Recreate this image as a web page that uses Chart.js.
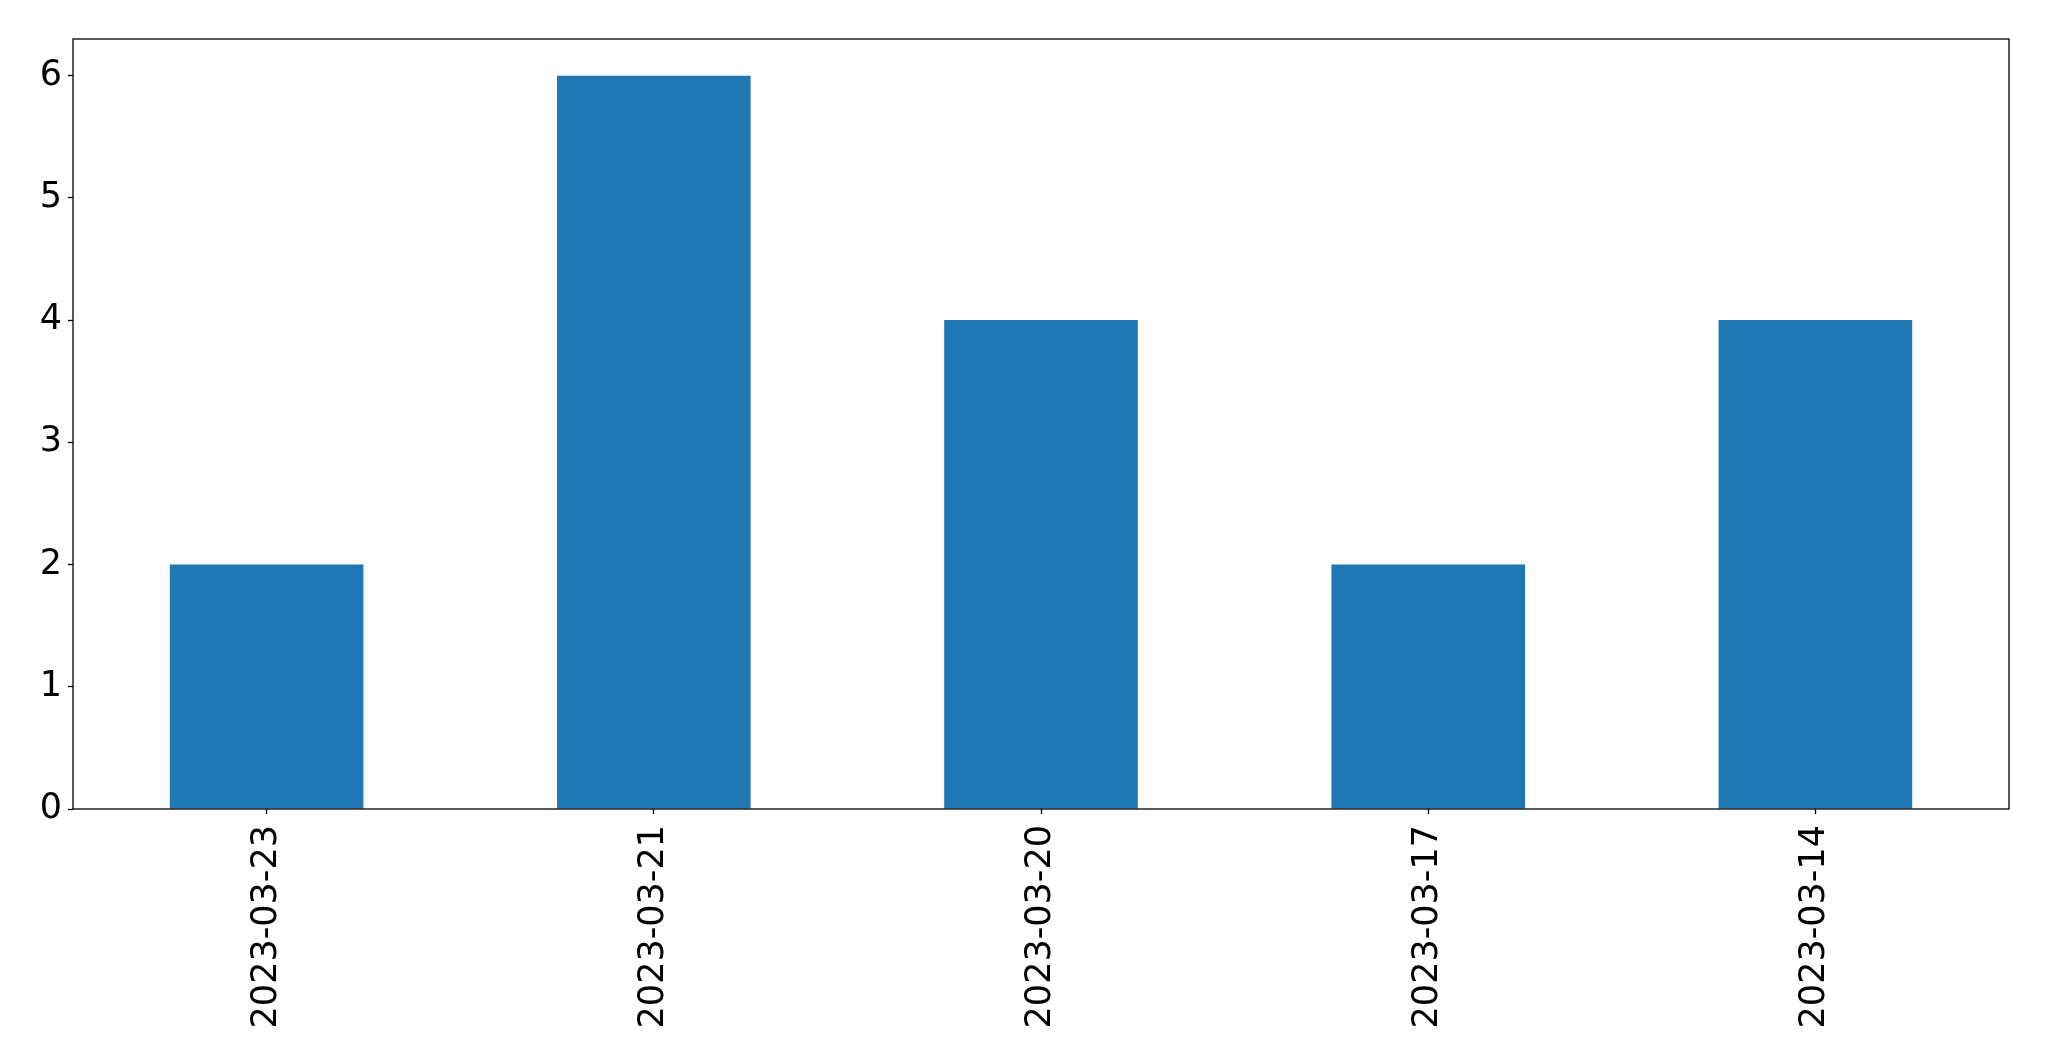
<!DOCTYPE html>
<html>
<head>
<meta charset="utf-8">
<script src="https://cdn.jsdelivr.net/npm/chart.js@4.4.0/dist/chart.umd.min.js"></script>
<style>
  html, body { margin: 0; padding: 0; background: #fff; }
  #wrap { width: 2049px; height: 1061px; }
</style>
</head>
<body>
<div id="wrap"><canvas id="dataChart" width="2049" height="1061"></canvas></div>
<script>
// categories and values
var dates = ['2023-03-23', '2023-03-21', '2023-03-20', '2023-03-17', '2023-03-14'];
var counts = [2, 6, 4, 2, 4];
var yTicks = [0, 1, 2, 3, 4, 5, 6];

// draws the full frame round the plot area (top and right spines too)
var frame = {
  id: 'frame',
  afterDatasetsDraw: function(chart) {
    var a = chart.chartArea, c = chart.ctx;
    c.save();
    c.strokeStyle = '#000';
    c.lineWidth = 1.3;
    c.strokeRect(a.left, a.top, a.right - a.left, a.bottom - a.top);
    c.restore();
  }
};

document.addEventListener("DOMContentLoaded", function() {
  var ctx = document.getElementById('dataChart').getContext('2d');
  Chart.defaults.font.family = 'DejaVu Sans';
  Chart.defaults.color = '#000';

  new Chart(ctx, {
    type: 'bar',
    data: {
      labels: dates,
      datasets: [{
        data: counts,
        backgroundColor: '#1f77b4',
        borderWidth: 0,
        categoryPercentage: 1.0,
        barPercentage: 0.5
      }]
    },
    options: {
      responsive: false,
      animation: false,
      layout: { padding: { top: 39, right: 40, left: 0, bottom: 0 } },
      plugins: { legend: { display: false }, tooltip: { enabled: false } },
      scales: {
        x: {
          grid: { display: true, drawOnChartArea: false, offset: false, tickLength: 5, tickColor: '#000', tickWidth: 1.3 },
          border: { display: false },
          ticks: { font: { size: 35 }, minRotation: 90, maxRotation: 90, padding: 11, autoSkip: false },
          afterFit: function(s) { s.height = 252; }
        },
        y: {
          min: 0,
          max: 6.3,
          grid: { display: true, drawOnChartArea: false, tickLength: 5, tickColor: '#000', tickWidth: 1.3 },
          border: { display: false },
          ticks: { font: { size: 35 }, stepSize: 1, includeBounds: false, padding: 6 },
          afterBuildTicks: function(s) {
            s.ticks = yTicks.map(function(v) { return { value: v }; });
          },
          afterFit: function(s) { s.width = 73; }
        }
      }
    },
    plugins: [frame]
  });
});
</script>
</body>
</html>
